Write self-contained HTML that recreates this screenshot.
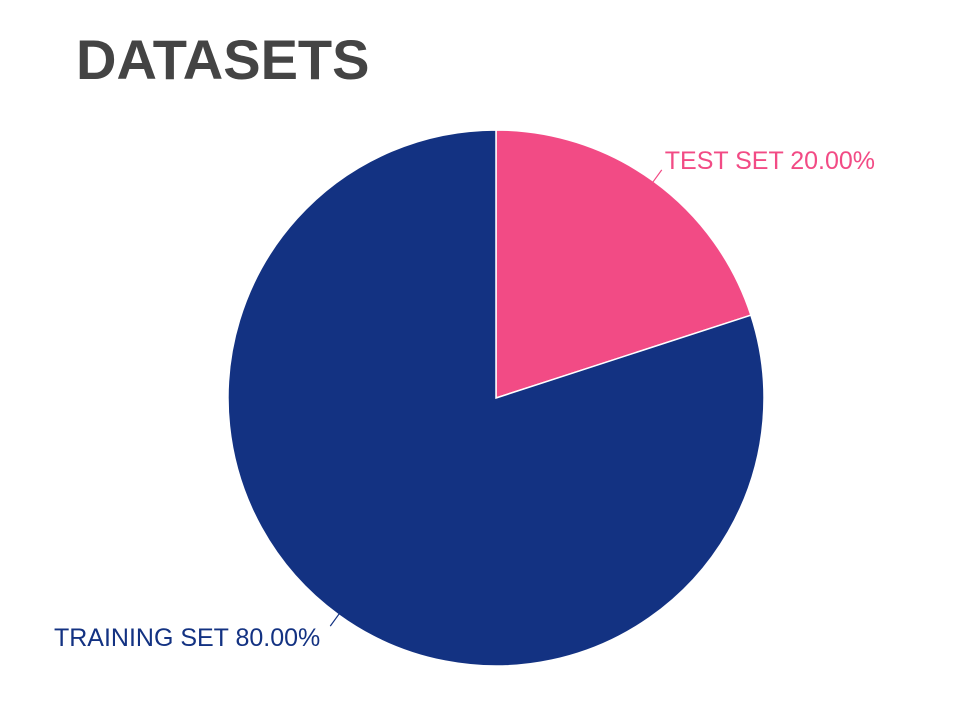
<!DOCTYPE html>
<html>
<head>
<meta charset="utf-8">
<style>
  html,body{margin:0;padding:0;background:#fff;}
  body{width:973px;height:720px;overflow:hidden;font-family:"Liberation Sans",sans-serif;}
  #title{position:absolute;left:76px;top:27px;font-size:56px;font-weight:bold;color:#444;}
</style>
</head>
<body>
<div id="title">DATASETS</div>
<svg id="chart" width="973" height="720" style="position:absolute;left:0;top:0"></svg>
<script>
const categories = ["TEST SET", "TRAINING SET"];
const values = [20, 80];
const colors = ["#f24b85", "#133282"];
const labels = ["TEST SET 20.00%", "TRAINING SET 80.00%"];

const svg = document.getElementById('chart');
const NS = 'http://www.w3.org/2000/svg';
const cx = 496, cy = 398, r = 268;
const total = values.reduce((a,b)=>a+b,0);
function pt(angle, rad){ return [cx + rad*Math.sin(angle), cy - rad*Math.cos(angle)]; }
let start = 0;
values.forEach((v,i)=>{
  const sweep = v/total*2*Math.PI;
  const end = start + sweep;
  const [x1,y1] = pt(start, r), [x2,y2] = pt(end, r);
  const large = sweep > Math.PI ? 1 : 0;
  const p = document.createElementNS(NS,'path');
  p.setAttribute('d', `M${cx},${cy} L${x1},${y1} A${r},${r} 0 ${large} 1 ${x2},${y2} Z`);
  p.setAttribute('fill', colors[i]);
  p.setAttribute('stroke', '#fff');
  p.setAttribute('stroke-width', '1.5');
  
  
  svg.appendChild(p);
  const mid = start + sweep/2;
  const onRight = Math.sin(mid) >= 0;
  const [ax, ay] = pt(mid, r - 2);
  const [bx, by] = pt(mid, r + 14);
  const ln = document.createElementNS(NS,'line');
  ln.setAttribute('x1', ax); ln.setAttribute('y1', ay);
  ln.setAttribute('x2', bx); ln.setAttribute('y2', by);
  ln.setAttribute('stroke', colors[i]); ln.setAttribute('stroke-width','1.2');
  
  
  svg.appendChild(ln);
  const t = document.createElementNS(NS,'text');
  t.setAttribute('x', onRight ? bx + 3 : bx - 10);
  t.setAttribute('y', onRight ? by - 1 : by + 20);
  t.setAttribute('text-anchor', onRight ? 'start' : 'end');
  t.setAttribute('font-size', '25');
  t.setAttribute('font-family', '"Liberation Sans", sans-serif');
  t.setAttribute('fill', colors[i]);
  t.textContent = labels[i];
  
  
  svg.appendChild(t);
  start = end;
});
</script>
</body>
</html>
